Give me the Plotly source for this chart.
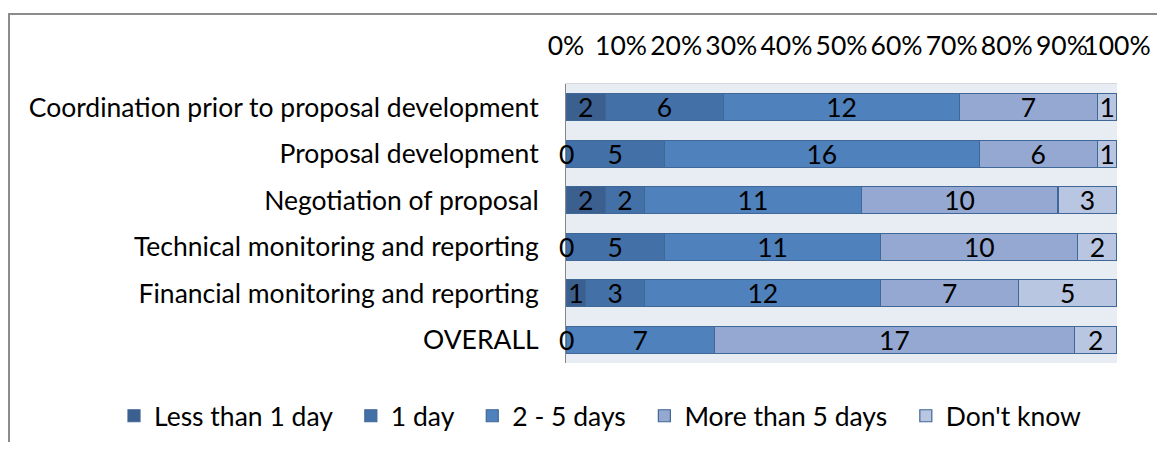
import plotly.graph_objects as go

categories = [
    'Coordination prior to proposal development',
    'Proposal development',
    'Negotiation of proposal',
    'Technical monitoring and reporting',
    'Financial monitoring and reporting',
    'OVERALL',
]
less_than_1_day = [2, 0, 2, 0, 1, 0]
one_day = [6, 5, 2, 5, 3, None]
two_to_five_days = [12, 16, 11, 11, 12, 7]
more_than_5_days = [7, 6, 10, 10, 7, 17]
dont_know = [1, 1, 3, 2, 5, 2]

series_names = ['Less than 1 day', '1 day', '2 - 5 days', 'More than 5 days', "Don't know"]
series_values = [less_than_1_day, one_day, two_to_five_days, more_than_5_days, dont_know]
x_tick_values = [0, 10, 20, 30, 40, 50, 60, 70, 80, 90, 100]
x_tick_labels = ['0%', '10%', '20%', '30%', '40%', '50%', '60%', '70%', '80%', '90%', '100%']

COLORS = ['#3B5F8E', '#4470A8', '#4F81BD', '#95A8D1', '#B9C6E1']
EDGE = '#3F6797'
FONT = 'Lato'
FONT_SIZE = 26.5
# Excel spaces legend entries a little wider than plotly does
LEGEND_PAD = '\u00a0\u00a0'

# the page body has an 8px margin, so the figure is drawn 8px in and 16px smaller
PAGE_PAD = 8
FIG_W, FIG_H = 1165 - 2 * PAGE_PAD, 450 - 2 * PAGE_PAD
# plot area in figure pixels
PLOT_L, PLOT_R, PLOT_T, PLOT_B = 566 - PAGE_PAD, 1117 - PAGE_PAD, 84 - PAGE_PAD, 363 - PAGE_PAD


def px_x(px):
    """Screen x pixel -> paper coordinate."""
    return (px - PAGE_PAD - PLOT_L) / (PLOT_R - PLOT_L)


def px_y(py):
    """Screen y pixel -> paper coordinate."""
    return (PLOT_B - (py - PAGE_PAD)) / (PLOT_B - PLOT_T)


fig = go.Figure()
for name, vals, color in zip(series_names, series_values, COLORS):
    fig.add_trace(go.Bar(
        y=categories,
        x=vals,
        name=name + LEGEND_PAD,
        orientation='h',
        marker=dict(color=color, line=dict(color=EDGE, width=1.2)),
        text=[v if v else None for v in vals],
        textposition='inside',
        insidetextanchor='middle',
        textangle=0,
        constraintext='none',
        textfont=dict(color='black', size=FONT_SIZE, family=FONT),
    ))

# zero-width segments still get their "0" label, at the segment position
totals = [sum(v[i] or 0 for v in series_values) for i in range(len(categories))]
for i, cat in enumerate(categories):
    cum = 0
    for vals in series_values:
        v = vals[i]
        if v == 0:
            fig.add_annotation(
                x=100 * cum / totals[i], y=cat, text='0', showarrow=False,
                xanchor='center', yanchor='middle',
                font=dict(color='black', size=FONT_SIZE, family=FONT),
            )
        cum += v or 0

# outer chart frame (only its top and left edges fall inside the picture)
fig.add_shape(
    type='rect', xref='paper', yref='paper',
    x0=px_x(9), x1=px_x(1400), y0=px_y(700), y1=px_y(14),
    line=dict(color='#8c8c8c', width=2), fillcolor='rgba(0,0,0,0)', layer='below',
)

fig.update_layout(
    barmode='stack',
    barnorm='percent',
    bargap=0.42,
    width=FIG_W,
    height=FIG_H,
    margin=dict(l=PLOT_L, r=FIG_W - PLOT_R, t=PLOT_T, b=FIG_H - PLOT_B, autoexpand=False),
    paper_bgcolor='white',
    plot_bgcolor='#E8ECF3',
    font=dict(family=FONT, size=FONT_SIZE, color='black'),
    uniformtext=dict(minsize=FONT_SIZE, mode='show'),
    showlegend=True,
    legend=dict(
        orientation='h', xref='paper', x=px_x(114), xanchor='left',
        yref='paper', y=px_y(416), yanchor='middle',
        font=dict(family=FONT, size=FONT_SIZE), traceorder='normal',
        bgcolor='rgba(0,0,0,0)', itemwidth=30,
    ),
)
fig.update_xaxes(
    side='top', range=[0, 100], tickvals=x_tick_values, ticktext=x_tick_labels,
    tickangle=0, showgrid=False, zeroline=False, ticks='', ticklabelstandoff=17,
    showline=True, linecolor='#D4D8DE', linewidth=1, fixedrange=True,
)
fig.update_yaxes(
    categoryorder='array', categoryarray=categories, autorange='reversed',
    showgrid=False, zeroline=False, ticks='', ticklabelstandoff=21,
    showline=True, linecolor='#868686', linewidth=1, fixedrange=True,
)

fig.write_html('out.html')
